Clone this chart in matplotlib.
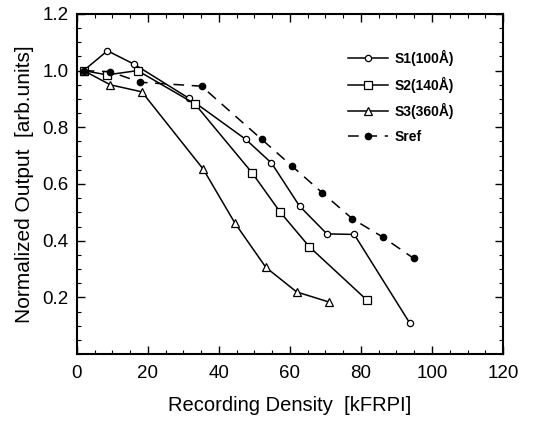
import matplotlib
matplotlib.use("Agg")
import matplotlib.pyplot as plt
from matplotlib.ticker import MultipleLocator, FixedLocator

plt.rcParams['font.family'] = ['Liberation Sans', 'DejaVu Sans']

s1_x = [1.9, 8.6, 16.2, 31.6, 47.5, 54.8, 62.7, 70.4, 78.1, 93.7]
s1_y = [1.0, 1.07, 1.022, 0.902, 0.758, 0.674, 0.522, 0.424, 0.422, 0.110]

s2_x = [1.9, 8.5, 17.1, 33.2, 49.3, 57.3, 65.5, 81.7]
s2_y = [1.0, 0.985, 1.0, 0.883, 0.64, 0.50, 0.378, 0.19]

s3_x = [1.9, 9.4, 18.3, 35.6, 44.5, 53.2, 61.9, 70.9]
s3_y = [1.0, 0.95, 0.925, 0.652, 0.462, 0.306, 0.219, 0.184]

sref_x = [1.9, 9.4, 17.8, 35.1, 52.0, 60.5, 69.1, 77.6, 86.1, 94.8]
sref_y = [1.0, 0.996, 0.959, 0.945, 0.758, 0.664, 0.569, 0.477, 0.413, 0.338]

labels = ['S1(100Å)', 'S2(140Å)', 'S3(360Å)', 'Sref']

fig = plt.figure(figsize=(5.34, 4.22), dpi=100)
ax = fig.add_axes([0.144, 0.161, 0.798, 0.806])

ax.plot(s1_x, s1_y, '-', color='black', lw=1.1, marker='o', ms=4.5,
        mfc='white', mec='black', mew=0.9, label=labels[0])
ax.plot(s2_x, s2_y, '-', color='black', lw=1.1, marker='s', ms=5.5,
        mfc='white', mec='black', mew=0.9, label=labels[1])
ax.plot(s3_x, s3_y, '-', color='black', lw=1.1, marker='^', ms=6,
        mfc='white', mec='black', mew=0.9, label=labels[2])
ax.plot(sref_x, sref_y, color='black', lw=1.1, dashes=(7, 5), marker='o', ms=4.5,
        mfc='black', mec='black', label=labels[3])

ax.set_xlim(0, 120)
ax.set_ylim(0, 1.2)
ax.xaxis.set_major_locator(MultipleLocator(20))
ax.xaxis.set_minor_locator(MultipleLocator(5))
ax.yaxis.set_major_locator(FixedLocator([0.2, 0.4, 0.6, 0.8, 1.0, 1.2]))
ax.yaxis.set_minor_locator(MultipleLocator(0.05))
ax.tick_params(which='both', direction='in', top=True, right=True, labelsize=13.5)
ax.tick_params(which='major', length=6, width=1.0)
ax.tick_params(which='minor', length=3, width=0.8)
ax.tick_params(axis='x', pad=8)
ax.tick_params(axis='y', pad=6)
for s in ax.spines.values():
    s.set_linewidth(1.5)

ax.set_xlabel('Recording Density  [kFRPI]', fontsize=14.5, labelpad=10)
ax.set_ylabel('Normalized Output  [arb.units]', fontsize=15, labelpad=6)

leg = ax.legend(loc='upper right', bbox_to_anchor=(0.915, 0.93), frameon=False,
                handlelength=2.9, labelspacing=0.75, handletextpad=0.5,
                prop={'weight': 'bold', 'size': 10})

fig.savefig('out.png', dpi=100)
